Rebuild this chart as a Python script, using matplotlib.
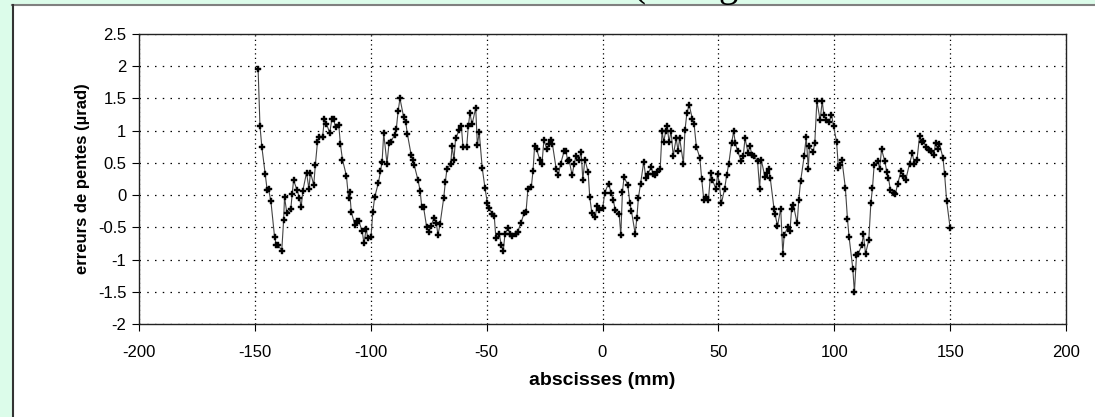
import matplotlib.pyplot as plt
from matplotlib.patches import Rectangle
from matplotlib.lines import Line2D

# abscisses (mm) et erreurs de pentes (µrad)
abscisses = [
    -148.6, -147.8, -147.0, -145.5, -144.7, -144.1, -143.1, -141.5, -140.7, -140.1,
    -138.4, -137.6, -137.2, -136.2, -134.5, -133.9, -133.3, -131.8, -130.8, -130.0,
    -129.3, -127.7, -126.7, -126.0, -124.6, -123.9, -123.0, -122.2, -120.8, -120.0,
    -119.1, -117.7, -116.8, -116.0, -115.2, -113.8, -113.1, -112.2, -110.5, -109.6,
    -109.1, -108.4, -106.8, -106.0, -105.2, -103.7, -102.9, -102.0, -101.3, -99.9,
    -99.1, -98.3, -96.7, -95.8, -95.1, -94.4, -93.0, -92.1, -91.4, -89.7,
    -89.0, -88.2, -87.4, -85.8, -84.9, -84.2, -82.6, -81.9, -81.2, -79.6,
    -78.7, -78.0, -77.2, -75.9, -74.9, -74.1, -72.6, -71.7, -71.0, -70.1,
    -68.5, -67.8, -67.1, -65.5, -64.9, -64.1, -63.4, -61.8, -60.9, -60.2,
    -58.6, -57.9, -57.2, -56.3, -54.7, -54.0, -53.2, -51.9, -50.7, -49.7,
    -49.0, -47.6, -46.7, -46.0, -44.5, -43.7, -42.8, -42.1, -40.8, -39.9,
    -39.1, -37.5, -36.6, -35.2, -33.8, -33.0, -32.2, -30.7, -30.0, -29.3,
    -28.4, -27.0, -26.1, -25.3, -23.9, -23.1, -22.3, -21.6, -20.0, -19.1,
    -18.1, -16.5, -15.8, -15.0, -14.4, -13.1, -12.2, -11.4, -10.1, -9.2,
    -8.5, -7.6, -6.2, -5.5, -4.6, -3.2, -2.3, -1.4, 0.1, 1.0,
    2.6, 3.7, 4.6, 5.5, 7.2, 7.9, 8.6, 9.3, 10.9, 11.8,
    12.5, 14.1, 14.8, 15.5, 16.4, 17.8, 18.7, 19.5, 21.1, 21.8,
    22.7, 23.6, 24.9, 25.7, 26.4, 27.3, 27.9, 28.7, 29.6, 30.5,
    31.8, 32.6, 33.3, 34.9, 35.6, 36.4, 37.4, 38.8, 39.5, 40.5,
    42.0, 42.8, 43.7, 44.5, 45.7, 46.7, 47.4, 48.9, 49.7, 50.4,
    51.3, 52.7, 53.6, 54.5, 55.7, 56.6, 57.3, 58.3, 59.9, 60.7,
    61.5, 62.8, 63.6, 64.5, 65.5, 66.9, 67.8, 68.5, 70.1, 71.0,
    71.7, 72.4, 74.0, 74.5, 75.5, 76.9, 77.8, 78.4, 80.1, 80.9,
    81.6, 82.4, 84.0, 84.7, 85.5, 87.0, 87.9, 88.8, 89.3, 90.9,
    91.6, 92.5, 93.9, 94.8, 95.5, 96.5, 97.9, 98.8, 99.7, 101.0,
    101.8, 102.6, 103.3, 104.8, 105.7, 106.4, 108.0, 108.7, 109.6, 110.3,
    111.9, 112.6, 113.5, 114.9, 115.8, 116.5, 117.2, 118.8, 119.6, 120.4,
    121.8, 122.7, 123.4, 124.2, 125.8, 126.4, 127.4, 128.8, 129.8, 130.8,
    132.5, 133.7, 134.5, 135.7, 136.8, 137.7, 138.3, 139.7, 140.8, 141.6,
    143.0, 143.7, 144.6, 145.4, 146.9, 147.6, 148.5, 150.0,
]
erreurs = [
    1.95, 1.07, 0.75, 0.32, 0.08, 0.09, -0.09, -0.65, -0.78, -0.77,
    -0.86, -0.39, -0.03, -0.28, -0.22, 0.02, 0.23, 0.08, -0.04, -0.18,
    0.07, 0.35, 0.10, 0.35, 0.16, 0.47, 0.82, 0.90, 0.90, 1.18,
    1.11, 0.96, 1.18, 1.18, 1.05, 1.09, 0.79, 0.55, 0.30, -0.04,
    0.05, -0.26, -0.47, -0.40, -0.40, -0.56, -0.75, -0.52, -0.66, -0.65,
    -0.26, -0.03, 0.19, 0.37, 0.52, 0.96, 0.49, 0.81, 0.83, 0.93,
    1.02, 1.30, 1.50, 1.21, 1.13, 0.95, 0.63, 0.55, 0.46, 0.23,
    0.07, -0.18, -0.19, -0.49, -0.57, -0.48, -0.35, -0.43, -0.62, -0.45,
    -0.04, 0.21, 0.41, 0.48, 0.76, 0.55, 0.88, 1.01, 1.07, 0.75,
    0.75, 1.07, 1.27, 1.10, 1.35, 0.77, 0.98, 0.42, 0.11, -0.12,
    -0.20, -0.29, -0.33, -0.67, -0.61, -0.77, -0.86, -0.61, -0.51, -0.61,
    -0.64, -0.60, -0.57, -0.43, -0.28, -0.26, 0.09, 0.13, 0.37, 0.76,
    0.71, 0.54, 0.49, 0.85, 0.71, 0.79, 0.85, 0.79, 0.41, 0.31,
    0.48, 0.69, 0.69, 0.53, 0.54, 0.31, 0.49, 0.61, 0.55, 0.67,
    0.24, 0.55, 0.36, -0.03, -0.28, -0.34, -0.17, -0.23, -0.20, 0.04,
    0.18, 0.04, -0.07, -0.23, -0.30, -0.62, 0.05, 0.28, 0.16, -0.12,
    -0.25, -0.60, -0.36, -0.04, 0.17, 0.52, 0.26, 0.33, 0.43, 0.33,
    0.31, 0.36, 0.41, 0.99, 0.83, 0.99, 1.07, 0.83, 0.99, 0.61,
    0.88, 0.69, 0.88, 0.49, 1.01, 1.27, 1.40, 1.18, 1.11, 0.75,
    0.58, 0.25, -0.07, -0.03, -0.07, 0.35, 0.24, 0.10, 0.33, 0.18,
    -0.13, 0.10, 0.31, 0.49, 0.81, 0.99, 0.81, 0.68, 0.53, 0.60,
    0.88, 0.66, 0.76, 0.62, 0.60, 0.53, 0.10, 0.55, 0.28, 0.35,
    0.41, 0.26, -0.21, -0.30, -0.48, -0.21, -0.91, -0.62, -0.49, -0.56,
    -0.21, -0.16, -0.44, -0.07, 0.22, 0.60, 0.90, 0.41, 0.76, 0.67,
    0.81, 1.46, 1.16, 1.46, 1.25, 1.17, 1.14, 1.25, 1.07, 0.83,
    0.42, 0.47, 0.55, 0.11, -0.37, -0.65, -1.14, -1.51, -0.93, -0.92,
    -0.77, -0.61, -0.91, -0.70, -0.12, 0.11, 0.46, 0.53, 0.41, 0.71,
    0.53, 0.36, 0.27, 0.08, 0.04, 0.02, 0.18, 0.37, 0.30, 0.23,
    0.49, 0.65, 0.49, 0.55, 0.91, 0.82, 0.84, 0.75, 0.70, 0.69,
    0.63, 0.81, 0.72, 0.79, 0.58, 0.33, -0.09, -0.51,
]
xticks = [-200, -150, -100, -50, 0, 50, 100, 150, 200]
yticks = [-2, -1.5, -1, -0.5, 0, 0.5, 1, 1.5, 2, 2.5]

plt.rcParams['font.family'] = ['Liberation Sans', 'DejaVu Sans']

fig = plt.figure(figsize=(10.95, 4.17), dpi=100)
W, H = 1095, 417

# cadre vert (bandes en haut et à gauche)
vert = '#dcfcea'
fig.patches.append(Rectangle((0, 1 - 4 / H), 1, 4 / H, transform=fig.transFigure,
                             facecolor=vert, edgecolor='none', zorder=0))
fig.patches.append(Rectangle((0, 0), 12 / W, 1, transform=fig.transFigure,
                             facecolor=vert, edgecolor='none', zorder=0))
fig.lines.append(Line2D([12 / W, 1], [1 - 5 / H, 1 - 5 / H], transform=fig.transFigure,
                        color='#808080', lw=1.5))
fig.lines.append(Line2D([13 / W, 13 / W], [0, 1 - 5 / H], transform=fig.transFigure,
                        color='#333333', lw=1.5))

# titre tronqué en haut (seul le bas des lettres est visible)
fig.text(632 / W, 1 + 4 / H, '(', fontsize=28, family='Liberation Serif',
         ha='left', va='baseline')
fig.text(718 / W, 1 + 4 / H, 'g', fontsize=28, family='Liberation Serif',
         ha='left', va='baseline')

ax = fig.add_axes([139 / W, 1 - 324 / H, (1066 - 139) / W, (324 - 34) / H])
ax.plot(abscisses, erreurs, color='#444444', lw=0.8, marker='P', ms=3.8,
        mfc='black', mec='black', mew=0.3)

ax.set_xlim(-200, 200)
ax.set_ylim(-2, 2.5)
ax.set_xticks(xticks)
ax.set_yticks(yticks)
ax.set_xticklabels([str(v) for v in xticks])
ax.set_yticklabels([('%g' % v) for v in yticks])
ax.tick_params(direction='out', length=5, width=0.8, labelsize=12, pad=10)
ax.tick_params(axis='y', pad=4)

ax.yaxis.grid(True, color='black', lw=0.9, linestyle=(0, (1.2, 5)))
ax.xaxis.grid(True, color='black', lw=0.9, linestyle=(0, (1, 2.6)))
for s in ax.spines.values():
    s.set_linewidth(1.0)
    s.set_color('#222222')

ax.set_xlabel('abscisses (mm)', fontsize=14, fontweight='bold', labelpad=9)
ax.set_ylabel('erreurs de pentes (µrad)', fontsize=12, fontweight='bold', labelpad=6)

plt.savefig('out.png', dpi=100)
